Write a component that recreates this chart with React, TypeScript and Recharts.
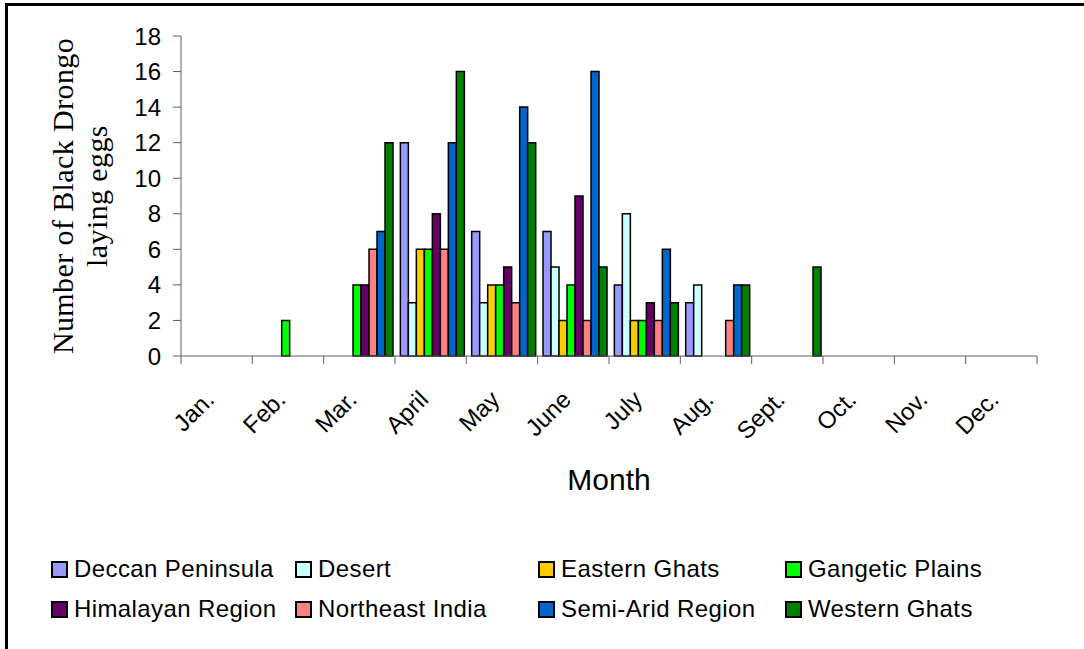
import React from "react";
import { Bar, BarChart, Label, Legend, XAxis, YAxis } from "recharts";

const months = ["Jan.", "Feb.", "Mar.", "April", "May", "June", "July", "Aug.", "Sept.", "Oct.", "Nov.", "Dec."];

const deccanPeninsula = [0, 0, 0, 12, 7, 7, 4, 3, 0, 0, 0, 0];
const desert = [0, 0, 0, 3, 3, 5, 8, 4, 0, 0, 0, 0];
const easternGhats = [0, 0, 0, 6, 4, 2, 2, 0, 0, 0, 0, 0];
const gangeticPlains = [0, 2, 4, 6, 4, 4, 2, 0, 0, 0, 0, 0];
const himalayanRegion = [0, 0, 4, 8, 5, 9, 3, 0, 0, 0, 0, 0];
const northeastIndia = [0, 0, 6, 6, 3, 2, 2, 2, 0, 0, 0, 0];
const semiAridRegion = [0, 0, 7, 12, 14, 16, 6, 4, 0, 0, 0, 0];
const westernGhats = [0, 0, 12, 16, 12, 5, 3, 4, 5, 0, 0, 0];

const yTicks = [0, 2, 4, 6, 8, 10, 12, 14, 16, 18];

const series = [
    { key: "deccan", name: "Deccan Peninsula", values: deccanPeninsula, color: "#9999FF" },
    { key: "desert", name: "Desert", values: desert, color: "#CCFFFF" },
    { key: "eastern", name: "Eastern Ghats", values: easternGhats, color: "#FFCC00" },
    { key: "gangetic", name: "Gangetic Plains", values: gangeticPlains, color: "#00FF00" },
    { key: "himalayan", name: "Himalayan Region", values: himalayanRegion, color: "#660066" },
    { key: "northeast", name: "Northeast India", values: northeastIndia, color: "#FF8080" },
    { key: "semiarid", name: "Semi-Arid Region", values: semiAridRegion, color: "#0066CC" },
    { key: "western", name: "Western Ghats", values: westernGhats, color: "#008000" },
];

const data = months.map((month, i) => {
    const row: Record<string, string | number> = { month };
    series.forEach((s) => {
        row[s.key] = s.values[i];
    });
    return row;
});

const SANS = "Arial, 'Liberation Sans', sans-serif";
const SERIF = "'Times New Roman', 'Liberation Serif', serif";
const AXIS = "#5e5e5e";

// tick marks sit on the category edges (like the original), labels slanted
const MonthTick = (props: any) => {
    const { x, y, payload, index, visibleTicksCount, width } = props;
    const half = payload.offset || width / visibleTicksCount / 2;
    const axisY = y - 8;
    return (
        <g>
            <line x1={x - half} x2={x - half} y1={axisY} y2={axisY + 8} stroke={AXIS} strokeWidth={1} />
            {index === visibleTicksCount - 1 && (
                <line x1={x + half} x2={x + half} y1={axisY} y2={axisY + 8} stroke={AXIS} strokeWidth={1} />
            )}
            <g transform={`translate(${x - 1},${y + 37})`}>
                <text textAnchor="end" transform="rotate(-45)" fontSize={24} fontFamily={SANS} fill="#000">
                    {payload.value}
                </text>
            </g>
        </g>
    );
};

const YTitle = (props: any) => {
    const { viewBox } = props;
    const cy = viewBox.y + viewBox.height / 2;
    return (
        <text
            transform={`translate(73,${cy}) rotate(-90)`}
            textAnchor="middle"
            fontFamily={SERIF}
            fontSize={30}
            letterSpacing={0.4}
            fill="#000"
        >
            <tspan x={0} y={0}>Number of Black Drongo</tspan>
            <tspan x={0} y={34}>laying eggs</tspan>
        </text>
    );
};

const XTitle = (props: any) => {
    const { viewBox } = props;
    return (
        <text
            x={viewBox.x + viewBox.width / 2}
            y={viewBox.y + 134}
            textAnchor="middle"
            fontFamily={SANS}
            fontSize={30}
            fill="#000"
        >
            Month
        </text>
    );
};

const LegendBox = (props: any) => {
    const { payload } = props;
    return (
        <div
            style={{
                display: "grid",
                gridTemplateColumns: "244px 243px 247px 247px",
                paddingLeft: 51,
                fontFamily: SANS,
                fontSize: 24,
                letterSpacing: 0.4,
                color: "#000",
            }}
        >
            {payload.map((entry: any) => (
                <div key={entry.value} style={{ display: "flex", alignItems: "center", height: 40, whiteSpace: "nowrap" }}>
                    <span
                        style={{
                            display: "inline-block",
                            width: 17,
                            height: 17,
                            boxSizing: "border-box",
                            border: "2px solid #000",
                            background: entry.color,
                            marginRight: 6,
                        }}
                    />
                    <span>{entry.value}</span>
                </div>
            ))}
        </div>
    );
};

export default function App() {
    return (
        <div style={{ position: "fixed", left: 0, top: 0, width: 1084, height: 649, overflow: "hidden", background: "#fff" }}>
            <div
                style={{
                    position: "absolute",
                    left: 5,
                    top: 3,
                    width: 1120,
                    height: 700,
                    border: "3px solid #000",
                    boxSizing: "border-box",
                }}
            />
            <div style={{ position: "absolute", left: 0, top: 0 }}>
                <BarChart
                    width={1084}
                    height={649}
                    data={data}
                    margin={{ top: 36, right: 47, bottom: 153, left: 101 }}
                    barCategoryGap="7.5%"
                    barGap={0}
                >
                    <XAxis
                        dataKey="month"
                        interval={0}
                        height={140}
                        tickLine={false}
                        tickSize={8}
                        tickMargin={0}
                        axisLine={{ stroke: AXIS, strokeWidth: 1 }}
                        tick={<MonthTick />}
                    >
                        <Label content={<XTitle />} />
                    </XAxis>
                    <YAxis
                        width={80}
                        domain={[0, 18]}
                        ticks={yTicks}
                        interval={0}
                        tickSize={8}
                        tickMargin={12}
                        axisLine={{ stroke: AXIS, strokeWidth: 1 }}
                        tickLine={{ stroke: AXIS, strokeWidth: 1 }}
                        tick={{ fontSize: 24, fontFamily: SANS, fill: "#000" }}
                    >
                        <Label content={<YTitle />} />
                    </YAxis>
                    <Legend
                        layout="horizontal"
                        verticalAlign="middle"
                        align="center"
                        content={<LegendBox />}
                        wrapperStyle={{ left: 0, top: 549, width: 1084 }}
                    />
                    {series.map((s) => (
                        <Bar
                            key={s.key}
                            dataKey={s.key}
                            name={s.name}
                            fill={s.color}
                            stroke="#000"
                            strokeWidth={1.5}
                            isAnimationActive={false}
                        />
                    ))}
                </BarChart>
            </div>
        </div>
    );
}
